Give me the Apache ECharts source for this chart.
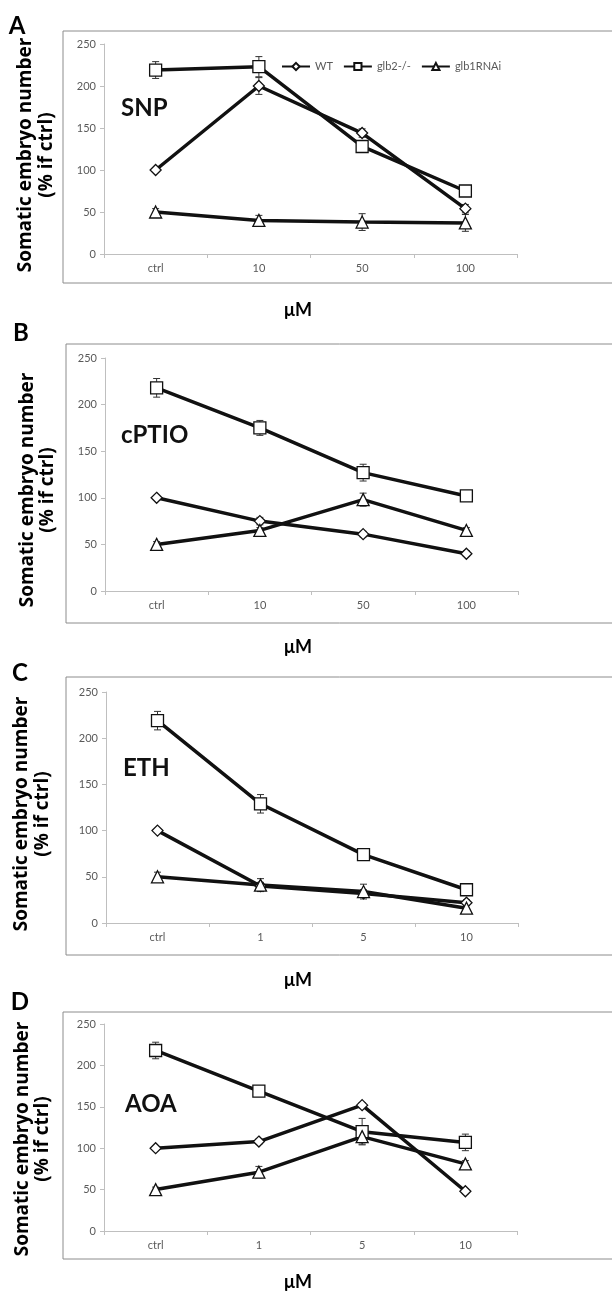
<!DOCTYPE html>
<html>
<head>
<meta charset="utf-8">
<script src="https://cdn.jsdelivr.net/npm/echarts@6/dist/echarts.min.js"></script>
<style>html,body{margin:0;padding:0;background:#fff}#c{width:612px;height:1292px}</style>
</head>
<body>
<div id="c"></div>
<script>
// ---- data ----
const seriesNames = ['WT', 'glb2-/-', 'glb1RNAi'];
const yTicks = [0, 50, 100, 150, 200, 250];
const catsSNP = ['ctrl', '10', '50', '100'];
const catsCPTIO = ['ctrl', '10', '50', '100'];
const catsETH = ['ctrl', '1', '5', '10'];
const catsAOA = ['ctrl', '1', '5', '10'];

const snpWT = [100, 200, 144, 54];
const snpGlb2 = [219, 223, 128, 75];
const snpGlb1 = [50, 40, 38, 37];
const snpWTErr = [0, 10, 5, 5];
const snpGlb2Err = [10, 12, 7, 6];
const snpGlb1Err = [4, 6, 10, 10];

const cptioWT = [100, 75, 61, 40];
const cptioGlb2 = [218, 175, 127, 102];
const cptioGlb1 = [50, 65, 98, 65];
const cptioWTErr = [0, 4, 3, 3];
const cptioGlb2Err = [10, 8, 9, 4];
const cptioGlb1Err = [3, 3, 7, 3];

const ethWT = [100, 40, 32, 22];
const ethGlb2 = [219, 129, 74, 36];
const ethGlb1 = [50, 41, 34, 16];
const ethWTErr = [0, 4, 4, 3];
const ethGlb2Err = [10, 10, 4, 3];
const ethGlb1Err = [5, 7, 8, 4];

const aoaWT = [100, 108, 152, 48];
const aoaGlb2 = [218, 169, 120, 107];
const aoaGlb1 = [50, 71, 114, 81];
const aoaWTErr = [0, 3, 3, 3];
const aoaGlb2Err = [10, 3, 16, 10];
const aoaGlb1Err = [3, 7, 9, 4];

const panels = [
  {letter: 'A', name: 'SNP', cats: catsSNP, vals: [snpWT, snpGlb2, snpGlb1], errs: [snpWTErr, snpGlb2Err, snpGlb1Err]},
  {letter: 'B', name: 'cPTIO', cats: catsCPTIO, vals: [cptioWT, cptioGlb2, cptioGlb1], errs: [cptioWTErr, cptioGlb2Err, cptioGlb1Err]},
  {letter: 'C', name: 'ETH', cats: catsETH, vals: [ethWT, ethGlb2, ethGlb1], errs: [ethWTErr, ethGlb2Err, ethGlb1Err]},
  {letter: 'D', name: 'AOA', cats: catsAOA, vals: [aoaWT, aoaGlb2, aoaGlb1], errs: [aoaWTErr, aoaGlb2Err, aoaGlb1Err]}
];

// ---- layout ----
const layout = [
  {gl: 104, gr: 517, gt: 44, gh: 210, fx: 63, fy: 31, fh: 252, lx: 17, ly: 26, nx: 121, ny: 108, yl1: 26, yl2: 47, yc: 155, mu: 310},
  {gl: 105, gr: 518, gt: 358, gh: 233, fx: 66, fy: 344, fh: 279, lx: 21, ly: 333, nx: 121, ny: 435, yl1: 28, yl2: 48, yc: 490, mu: 647},
  {gl: 106, gr: 518, gt: 692, gh: 231, fx: 66, fy: 677, fh: 278, lx: 20, ly: 673, nx: 123, ny: 768, yl1: 22, yl2: 43, yc: 814, mu: 980},
  {gl: 104, gr: 517, gt: 1024, gh: 207, fx: 63, fy: 1012, fh: 247, lx: 20, ly: 1002, nx: 125, ny: 1104, yl1: 23, yl2: 43, yc: 1139, mu: 1282}
];

const symbols = ['diamond', 'rect', 'triangle'];
const symSizes = [11, 12, 12];
const FONT = 'Lato, "Open Sans", sans-serif';
const TFONT = '"Open Sans", Lato, sans-serif';

const grids = [], xAxes = [], yAxes = [], series = [], graphics = [];
panels.forEach((p, i) => {
  const L = layout[i];
  grids.push({left: L.gl, width: L.gr - L.gl, top: L.gt, height: L.gh});
  xAxes.push({
    type: 'category', gridIndex: i, data: p.cats, boundaryGap: true,
    axisLine: {lineStyle: {color: '#bfbfbf', width: 1}},
    axisTick: {show: true, length: 4, lineStyle: {color: '#bfbfbf'}},
    axisLabel: {color: '#595959', fontSize: 11, fontFamily: FONT, margin: 9}
  });
  yAxes.push({
    type: 'value', gridIndex: i, min: yTicks[0], max: yTicks[yTicks.length - 1], interval: 50,
    axisLine: {show: true, lineStyle: {color: '#bfbfbf', width: 1}},
    axisTick: {show: true, length: 4, lineStyle: {color: '#bfbfbf'}},
    splitLine: {show: false},
    axisLabel: {color: '#595959', fontSize: 11, fontFamily: FONT, margin: 8}
  });
  // error bars
  p.vals.forEach((v, k) => {
    series.push({
      type: 'custom', xAxisIndex: i, yAxisIndex: i, z: 1, silent: true,
      data: v.map((y, j) => [j, y, p.errs[k][j]]),
      renderItem: function (params, api) {
        const x = api.value(0), y = api.value(1), e = api.value(2);
        if (!e) return null;
        const top = api.coord([x, y + e]);
        const bot = api.coord([x, y - e]);
        const st = {stroke: '#333', lineWidth: 1};
        return {type: 'group', children: [
          {type: 'line', shape: {x1: top[0], y1: top[1], x2: bot[0], y2: bot[1]}, style: st},
          {type: 'line', shape: {x1: top[0] - 3.5, y1: top[1], x2: top[0] + 3.5, y2: top[1]}, style: st},
          {type: 'line', shape: {x1: bot[0] - 3.5, y1: bot[1], x2: bot[0] + 3.5, y2: bot[1]}, style: st}
        ]};
      }
    });
  });
  p.vals.forEach((v, k) => {
    series.push({
      type: 'line', name: seriesNames[k], xAxisIndex: i, yAxisIndex: i, z: 3,
      data: v, symbol: symbols[k], symbolSize: symSizes[k], showAllSymbol: true,
      lineStyle: {color: '#111', width: 3.5},
      itemStyle: {color: '#fff', borderColor: '#111', borderWidth: 1.3},
      emphasis: {disabled: true}, animation: false
    });
  });
  // frame
  graphics.push({type: 'rect', shape: {x: L.fx, y: L.fy, width: 612 - L.fx + 10, height: L.fh},
    style: {fill: 'none', stroke: '#8c8c8c', lineWidth: 1}, z: -1});
  // panel letter
  graphics.push({type: 'text', x: L.lx, y: L.ly, style: {text: p.letter, font: 'bold 24px ' + FONT, fill: '#000', align: 'center', verticalAlign: 'middle'}});
  // treatment name
  graphics.push({type: 'text', x: L.nx, y: L.ny, style: {text: p.name, font: 'bold 24px ' + FONT, fill: '#111', align: 'left', verticalAlign: 'middle'}});
  // y-axis title
  graphics.push({type: 'text', x: L.yl1, y: L.yc, rotation: Math.PI / 2, style: {text: 'Somatic embryo number', font: 'bold 19px ' + TFONT, fill: '#000', align: 'center', verticalAlign: 'middle'}});
  graphics.push({type: 'text', x: L.yl2, y: L.yc, rotation: Math.PI / 2, style: {text: '(% if ctrl)', font: 'bold 19px ' + TFONT, fill: '#000', align: 'center', verticalAlign: 'middle'}});
  // x-axis title
  graphics.push({type: 'text', x: 298, y: L.mu, style: {text: 'μM', font: 'bold 18px ' + FONT, fill: '#000', align: 'center', verticalAlign: 'middle'}});
});

const chart = echarts.init(document.getElementById('c'), null, {renderer: 'canvas'});
chart.setOption({
  backgroundColor: '#fff',
  animation: false,
  grid: grids, xAxis: xAxes, yAxis: yAxes, series: series,
  legend: {
    data: seriesNames, left: 276, top: 56, itemWidth: 28, itemHeight: 9, itemGap: 10,
    textStyle: {color: '#595959', fontSize: 11, fontFamily: FONT}, selectedMode: false
  },
  graphic: graphics
});
</script>
</body>
</html>
